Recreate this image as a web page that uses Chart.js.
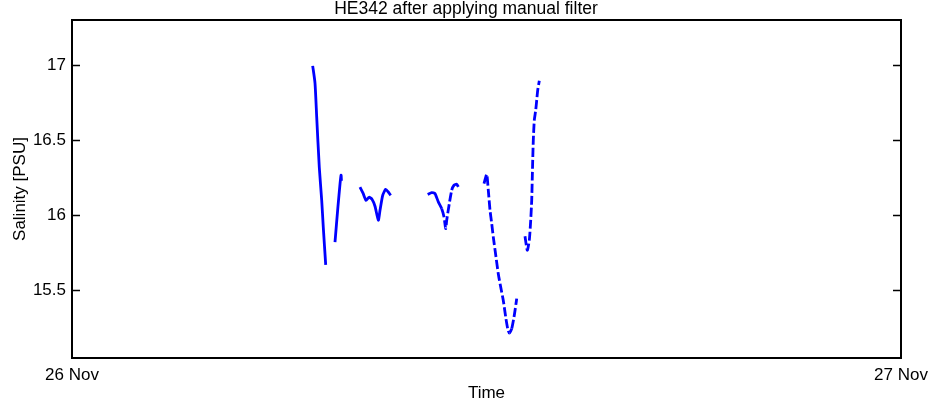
<!DOCTYPE html>
<html>
<head>
<meta charset="utf-8">
<script src="https://cdn.jsdelivr.net/npm/chart.js@4/dist/chart.umd.min.js"></script>
<style>
  html, body { margin: 0; padding: 0; background: #fff; }
  #wrap { width: 932px; height: 408px; }
</style>
</head>
<body>
<div id="wrap"><canvas id="c" width="932" height="408"></canvas></div>
<script>
/* ── Data: hours after 26 Nov 00:00 and salinity (PSU) per segment ── */
const seg1Hours = [6.968, 7.035, 7.084, 7.159, 7.229, 7.275, 7.345];
const seg1Sal   = [16.995, 16.88, 16.655, 16.32, 16.10, 15.92, 15.67];

const seg2Hours = [7.614, 7.70, 7.76, 7.79, 7.80];
const seg2Sal   = [15.822, 16.06, 16.21, 16.267, 16.23];

const seg3Hours = [8.337, 8.425, 8.512, 8.598, 8.685, 8.772, 8.868, 8.917, 8.995, 9.082, 9.157, 9.226];
const seg3Sal   = [16.187, 16.147, 16.10, 16.12, 16.107, 16.06, 15.967, 16.033, 16.133, 16.173, 16.155, 16.133];

const seg4Hours = [10.298, 10.413, 10.509, 10.605, 10.703, 10.770, 10.819, 10.848, 10.923, 10.993, 11.059, 11.138, 11.184];
const seg4Sal   = [16.138, 16.151, 16.144, 16.089, 16.044, 15.989, 15.911, 15.967, 16.078, 16.167, 16.20, 16.207, 16.189];

const seg5Hours = [11.928, 12.006, 12.052, 12.102, 12.151, 12.197, 12.275, 12.341, 12.411, 12.486, 12.556, 12.614, 12.660, 12.730, 12.796, 12.854, 12.874];
const seg5Sal   = [16.211, 16.273, 16.167, 16.033, 15.945, 15.855, 15.722, 15.611, 15.522, 15.433, 15.322, 15.245, 15.215, 15.245, 15.322, 15.411, 15.445];

const seg6Hours = [13.114, 13.181, 13.239, 13.280, 13.309, 13.326, 13.338, 13.355, 13.384, 13.425, 13.454, 13.483, 13.529];
const seg6Sal   = [15.86, 15.767, 15.833, 15.967, 16.10, 16.255, 16.367, 16.50, 16.633, 16.70, 16.767, 16.833, 16.895];

const yTicks  = [15.5, 16, 16.5, 17];
const xTicks  = [0, 24];
const xLabels = ['26 Nov', '27 Nov'];
const TITLE   = 'HE342 after applying manual filter';

// sparse (dotted-looking) segments in the original
const sparse = [false, false, false, true, true, true];

const segments = [
  [seg1Hours, seg1Sal], [seg2Hours, seg2Sal], [seg3Hours, seg3Sal],
  [seg4Hours, seg4Sal], [seg5Hours, seg5Sal], [seg6Hours, seg6Sal]
];

const FONT = 'Liberation Sans, Arial, Helvetica, sans-serif';

const datasets = segments.map(([hs, vs], i) => ({
  data: hs.map((h, j) => ({ x: h, y: vs[j] })),
  borderColor: '#0000ff',
  borderWidth: 2.8,
  pointRadius: 0,
  tension: 0.2,
  segment: {
    borderDash: ctx => {
      if (!sparse[i]) return undefined;
      const dx = Math.abs(ctx.p1.x - ctx.p0.x), dy = Math.abs(ctx.p1.y - ctx.p0.y);
      return dy > 2.5 * dx ? [9, 3] : undefined;
    }
  }
}));

/* ── Frame + inward ticks (MATLAB style box) + centred title ── */
const boxPlugin = {
  id: 'box',
  afterDatasetsDraw(chart) {
    const { ctx, chartArea: a, scales } = chart;
    ctx.save();
    ctx.strokeStyle = '#000';
    ctx.lineWidth = 2;
    ctx.strokeRect(a.left, a.top, a.right - a.left, a.bottom - a.top);
    ctx.lineWidth = 1.5;
    yTicks.forEach(v => {
      const y = Math.round(scales.y.getPixelForValue(v)) + 0.5;
      ctx.beginPath();
      ctx.moveTo(a.left, y); ctx.lineTo(a.left + 8, y);
      ctx.moveTo(a.right, y); ctx.lineTo(a.right - 8, y);
      ctx.stroke();
    });
    ctx.fillStyle = '#000';
    ctx.font = '17.5px ' + FONT;
    ctx.textAlign = 'center';
    ctx.textBaseline = 'middle';
    ctx.fillText(TITLE, chart.width / 2, 9);
    ctx.restore();
  }
};

new Chart(document.getElementById('c'), {
  type: 'line',
  data: { datasets },
  options: {
    responsive: false,
    animation: false,
    layout: { padding: { top: 20, right: 31, left: 0, bottom: 0 } },
    plugins: {
      legend: { display: false },
      tooltip: { enabled: false },
      title: { display: false }
    },
    scales: {
      x: {
        type: 'linear', min: 0, max: 24,
        afterBuildTicks: s => { s.ticks = xTicks.map(v => ({ value: v })); },
        afterFit: s => { s.height = 50; s.paddingLeft = 0; s.paddingRight = 0; },
        grid: { display: false, drawTicks: false },
        border: { display: false },
        ticks: {
          color: '#000', padding: 7,
          font: { family: FONT, size: 17 },
          maxRotation: 0, autoSkip: false,
          callback: (v) => xLabels[xTicks.indexOf(v)]
        },
        title: { display: true, text: 'Time', color: '#000', font: { family: FONT, size: 17 }, padding: { top: 0 } }
      },
      y: {
        min: 15.05, max: 17.3,
        afterBuildTicks: s => { s.ticks = yTicks.map(v => ({ value: v })); },
        afterFit: s => { s.width = 72; s.paddingTop = 0; s.paddingBottom = 0; },
        grid: { display: false, drawTicks: false },
        border: { display: false },
        ticks: {
          color: '#000', padding: 6,
          font: { family: FONT, size: 17 },
          callback: v => String(v)
        },
        title: { display: true, text: 'Salinity [PSU]', color: '#000', font: { family: FONT, size: 17 }, padding: { top: 10, bottom: 0 } }
      }
    }
  },
  plugins: [boxPlugin]
});
</script>
</body>
</html>
